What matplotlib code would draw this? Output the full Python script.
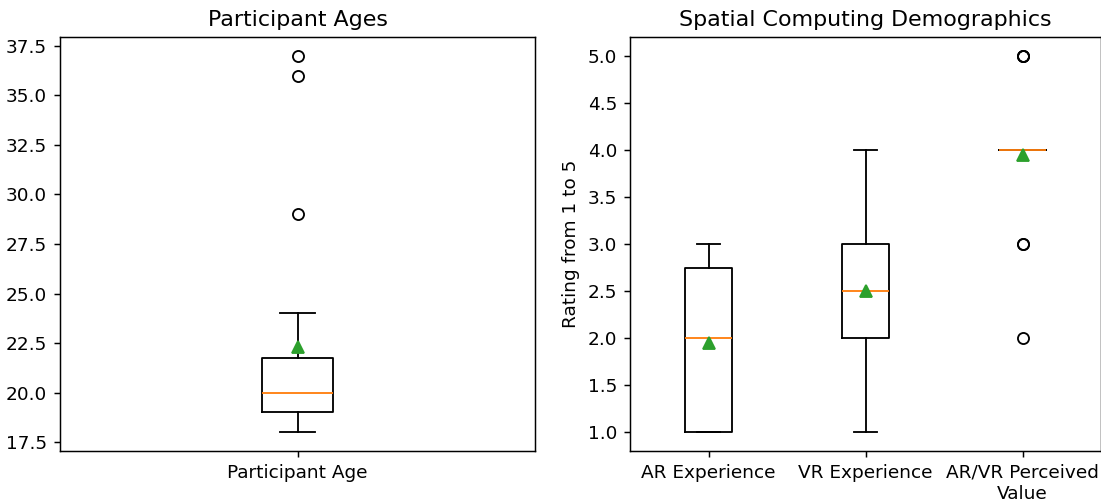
import numpy as np
import matplotlib.pyplot as plt

# Survey responses (18 participants)
participant_age = [18, 18, 19, 19, 19, 19, 19, 20, 20, 20, 20, 21, 21, 22, 24, 29, 36, 37]
ar_experience = [1] * 6 + [2] * 7 + [3] * 5
vr_experience = [1] * 2 + [2] * 7 + [3] * 7 + [4] * 2
perceived_value = [2] + [3] * 2 + [4] * 12 + [5] * 3

rating_labels = ["AR Experience", "VR Experience", "AR/VR Perceived\nValue"]

DPI = 133
W, H = 1101, 502
fig = plt.figure(figsize=(W / DPI, H / DPI), dpi=DPI)
ax1 = fig.add_axes([60 / W, 51 / H, 475 / W, 414 / H])
ax2 = fig.add_axes([630 / W, 51 / H, 471 / W, 414 / H])

ax1.boxplot([participant_age], showmeans=True)
ax1.set_xticks([1], ["Participant Age"])
ax1.set_title("Participant Ages")

ax2.boxplot([ar_experience, vr_experience, perceived_value], showmeans=True)
ax2.set_xticks([1, 2, 3], rating_labels)
ax2.set_ylabel("Rating from 1 to 5")
ax2.set_title("Spatial Computing Demographics")

fig.savefig("out.png", dpi=DPI)
